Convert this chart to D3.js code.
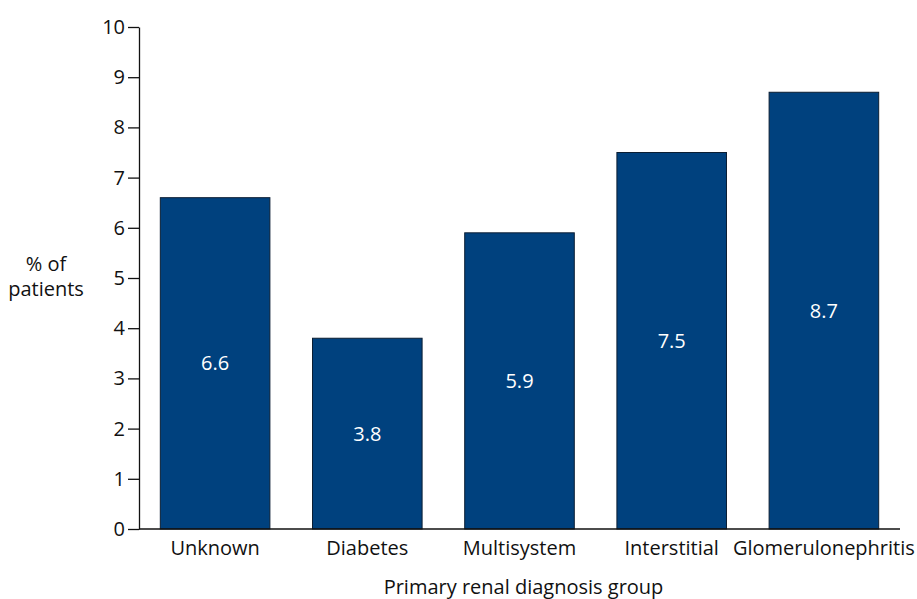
<!DOCTYPE html>
<html>
<head>
<meta charset="utf-8">
<script src="https://cdn.jsdelivr.net/npm/d3@7"></script>
<style>
  body { margin: 0; background: #fff; }
  text { font-family: "Open Sans", "Noto Sans", sans-serif; fill: #111; }
</style>
</head>
<body>
<div id="chart"></div>
<script>
// chart data
var categories = ["Unknown", "Diabetes", "Multisystem", "Interstitial", "Glomerulonephritis"];
var values = [6.6, 3.8, 5.9, 7.5, 8.7];
var yTicks = [0, 1, 2, 3, 4, 5, 6, 7, 8, 9, 10];

var width = 917, height = 599;
var margin = {top: 27, right: 17, bottom: 70, left: 139};

var svg = d3.select("#chart").append("svg")
  .attr("width", width)
  .attr("height", height);

var x = d3.scaleBand()
  .domain(categories)
  .range([margin.left, width - margin.right])
  .paddingInner(0.28)
  .paddingOuter(0.14);

var y = d3.scaleLinear()
  .domain([0, 10])
  .range([height - margin.bottom, margin.top]);

// bars
svg.append("g")
  .selectAll("rect")
  .data(values)
  .enter().append("rect")
    .attr("x", function(d, i) { return x(categories[i]); })
    .attr("y", function(d) { return y(d); })
    .attr("width", x.bandwidth())
    .attr("height", function(d) { return y(0) - y(d); })
    .attr("fill", "#00417e")
    .attr("stroke", "#0b1e33")
    .attr("stroke-width", 1);

// value labels inside the bars
svg.append("g")
  .selectAll("text")
  .data(values)
  .enter().append("text")
    .attr("x", function(d, i) { return x(categories[i]) + x.bandwidth() / 2; })
    .attr("y", function(d) { return (y(d) + y(0)) / 2; })
    .attr("dy", "0.35em")
    .attr("text-anchor", "middle")
    .style("fill", "#fff")
    .style("font-size", "20px")
    .text(function(d) { return d.toFixed(1); });

// y axis
var yAxis = svg.append("g")
  .attr("transform", "translate(" + margin.left + ",0)")
  .call(d3.axisLeft(y).tickValues(yTicks).tickSize(11).tickPadding(3).tickSizeOuter(0));
yAxis.select(".domain").attr("stroke", "#111").attr("stroke-width", 1.3);
yAxis.selectAll(".tick line").attr("stroke", "#111").attr("stroke-width", 1.3);
yAxis.selectAll("text").style("font-size", "20px").style("fill", "#111");

// x axis baseline
svg.append("line")
  .attr("x1", margin.left)
  .attr("x2", width - margin.right)
  .attr("y1", y(0))
  .attr("y2", y(0))
  .attr("stroke", "#111")
  .attr("stroke-width", 1.3);

// category labels
svg.append("g")
  .selectAll("text")
  .data(categories)
  .enter().append("text")
    .attr("x", function(d) { return x(d) + x.bandwidth() / 2; })
    .attr("y", y(0) + 26)
    .attr("text-anchor", "middle")
    .style("font-size", "20px")
    .text(function(d) { return d; });

// axis titles
svg.append("text")
  .attr("x", (margin.left + width - margin.right) / 2 + 4)
  .attr("y", 594)
  .attr("text-anchor", "middle")
  .style("font-size", "20px")
  .text("Primary renal diagnosis group");

var yTitle = svg.append("text")
  .attr("text-anchor", "middle")
  .style("font-size", "20px");
yTitle.append("tspan").attr("x", 46).attr("y", 271).text("% of");
yTitle.append("tspan").attr("x", 46).attr("y", 296).text("patients");
</script>
</body>
</html>
